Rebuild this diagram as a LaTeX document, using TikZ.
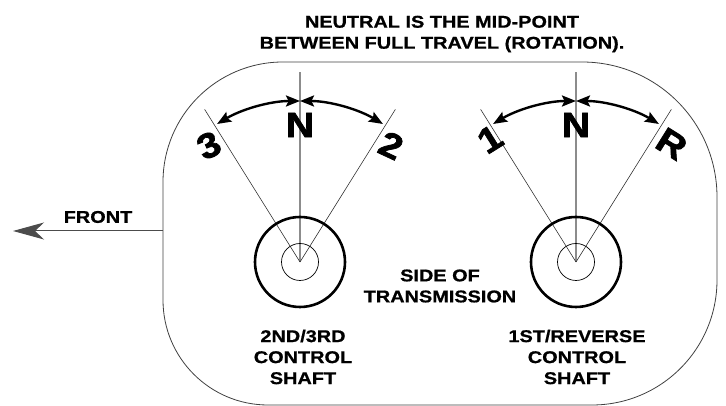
\documentclass[tikz,border=0pt]{standalone}
\usepackage{fontspec}
\newfontfamily\diagfont[FakeStretch=1.17, FakeBold=0.8]{Liberation Sans}
\newfontfamily\gearfont[FakeStretch=1.12, FakeBold=2]{Liberation Sans}
\usetikzlibrary{arrows.meta}

\begin{document}
\begin{tikzpicture}[x=1pt, y=1pt,
		outline/.style={color=black!75, line width=0.8pt},
		ray/.style={color=black!80, line width=0.6pt},
		neutral/.style={color=black!45, line width=1.6pt},
		travel/.style={{Stealth[length=14pt,width=11pt,inset=2.5pt]}-{Stealth[length=14pt,width=11pt,inset=2.5pt]}, line width=2.4pt},
		caption/.style={font=\diagfont\bfseries\fontsize{17}{21}\selectfont, align=center, inner sep=0pt},
		gear/.style={font=\gearfont\bfseries\fontsize{35}{35}\selectfont, inner sep=0pt}]
			\useasboundingbox (0,0) rectangle (726,406);
			% housing outline
			\draw [outline] (283,344) -- (582,344) arc[start angle=90, end angle=0, radius=135]
				-- (717,126) arc[start angle=0, end angle=-90, radius=125]
				-- (268,1) arc[start angle=270, end angle=180, radius=105]
				-- (163,224) arc[start angle=180, end angle=90, radius=120] -- cycle;
			\coordinate (frontbase) at (163,175);
			\coordinate (fronttip) at (13,175);
			\draw [color=black!70, line width=1pt, -{Stealth[length=31pt,width=17pt,inset=9pt]}] (frontbase) -- (fronttip);
			\node [caption] (front) at (98,189) {FRONT};
			% 2nd/3rd shaft
			\coordinate (lshaft) at (300,144);
			\draw [neutral] (lshaft) -- ++(0,190);
			\draw [ray] (lshaft) -- ++(122:180);
			\draw [ray] (lshaft) -- ++(58:180);
			\draw [travel] ([shift={(90:161)}]lshaft) arc[start angle=90, end angle=121, radius=161];
			\draw [travel] ([shift={(90:161)}]lshaft) arc[start angle=90, end angle=59, radius=161];
			\draw [line width=2.6pt] (lshaft) circle[radius=45];
			\draw [line width=0.7pt] (lshaft) circle[radius=18.5];
			\node [gear] (lneutral) at ([shift={(90:137)}]lshaft) {N};
			\node [gear, rotate=25] (third) at ([shift={(128:148)}]lshaft) {3};
			\node [gear, rotate=-25] (second) at ([shift={(52:148)}]lshaft) {2};
			% 1st/reverse shaft
			\coordinate (rshaft) at (576,144);
			\draw [neutral] (rshaft) -- ++(0,190);
			\draw [ray] (rshaft) -- ++(122:180);
			\draw [ray] (rshaft) -- ++(58:180);
			\draw [travel] ([shift={(90:161)}]rshaft) arc[start angle=90, end angle=121, radius=161];
			\draw [travel] ([shift={(90:161)}]rshaft) arc[start angle=90, end angle=59, radius=161];
			\draw [line width=2.6pt] (rshaft) circle[radius=45];
			\draw [line width=0.7pt] (rshaft) circle[radius=18.5];
			\node [gear] (rneutral) at ([shift={(90:137)}]rshaft) {N};
			\node [gear, rotate=32] (first) at ([shift={(125:150)}]rshaft) {1};
			\node [gear, rotate=-32] (reverse) at ([shift={(51:152)}]rshaft) {R};
			% texts
			\node [caption] (heading) at (442,372) {NEUTRAL IS THE MID-POINT\\BETWEEN FULL TRAVEL (ROTATION).};
			\node [caption] (side) at (440,120) {SIDE OF\\TRANSMISSION};
			\node [caption] (lname) at (303,49) {2ND/3RD\\CONTROL\\SHAFT};
			\node [caption] (rname) at (577,49) {1ST/REVERSE\\CONTROL\\SHAFT};
		\end{tikzpicture}
\end{document}
